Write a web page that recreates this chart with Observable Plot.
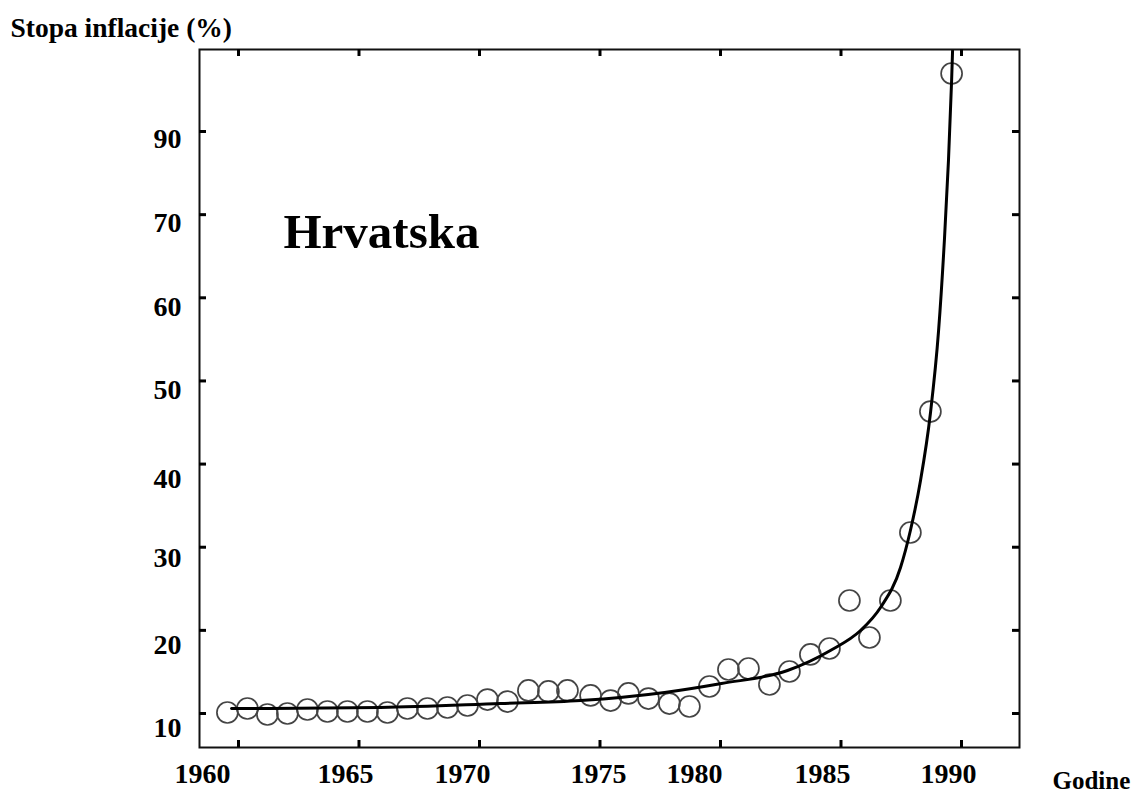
<!DOCTYPE html>
<html>
<head>
<meta charset="utf-8">
<script src="https://cdn.jsdelivr.net/npm/d3@7"></script>
<script src="https://cdn.jsdelivr.net/npm/@observablehq/plot@0.6"></script>
<style>
  html, body { margin: 0; padding: 0; background: #fff; }
  #chart { width: 1141px; height: 796px; }
</style>
</head>
<body>
<div id="chart"></div>
<script>
// Observed points (x positions in years as drawn, inflation rate in %)
const years = [1959.54, 1960.37, 1961.20, 1962.03, 1962.86, 1963.69, 1964.52, 1965.35, 1966.18, 1967.01,
  1967.84, 1968.67, 1969.50, 1970.33, 1971.16, 1972.03, 1972.86, 1973.65, 1974.61, 1975.44,
  1976.18, 1977.01, 1977.88, 1978.71, 1979.54, 1980.33, 1981.16, 1982.03, 1982.86, 1983.73,
  1984.52, 1985.35, 1986.18, 1987.05, 1987.88, 1988.71, 1989.59];
const rates = [10.12, 10.60, 9.88, 10.00, 10.48, 10.24, 10.24, 10.24, 10.12, 10.60,
  10.60, 10.72, 10.96, 11.68, 11.44, 12.77, 12.65, 12.77, 12.17, 11.56,
  12.41, 11.80, 11.20, 10.84, 13.25, 15.29, 15.41, 13.49, 15.05, 17.10,
  17.82, 23.59, 19.14, 23.59, 31.77, 46.32, 86.98];

// Fitted curve
const curveYears = [1959.71, 1965.89, 1970.87, 1974.19, 1977.68, 1980.04, 1982.78, 1984.56, 1985.81,
  1986.64, 1987.47, 1987.88, 1988.30, 1988.71, 1989.05, 1989.29, 1989.46, 1989.59, 1989.63];
const curveRates = [10.60, 10.72, 11.20, 11.56, 12.53, 13.61, 15.17, 17.58, 19.98,
  22.75, 27.56, 32.01, 38.02, 46.08, 56.07, 66.89, 76.52, 86.14, 89.74];

// Axes
const xTicks = [1960, 1965, 1970, 1975, 1980, 1985, 1990];
const xTickLabels = ["1960", "1965", "1970", "1975", "1980", "1985", "1990"];
const xLabelAt = [1958.51, 1964.44, 1969.29, 1974.94, 1978.92, 1984.23, 1989.46];
const yTicks = [10, 20, 30, 40, 50, 60, 70, 80];
const yTickLabels = ["10", "20", "30", "40", "50", "60", "70", "90"];
const yLabelAt = [8.20, 18.18, 28.76, 38.15, 48.85, 58.83, 68.94, 79.04];

const yTitle = "Stopa inflacije (%)";
const xTitle = "Godine";
const panelTitle = "Hrvatska";

const W = 1141, H = 796;
const mL = 199, mR = 122, mT = 49, mB = 49;
const plotW = W - mL - mR, plotH = H - mT - mB;
const tickLen = 7;
const font = "'Liberation Serif', 'Times New Roman', serif";

const points = years.map((x, i) => ({x, y: rates[i]}));
const curve = curveYears.map((x, i) => ({x, y: curveRates[i]}));

const chart = Plot.plot({
  width: W,
  height: H,
  marginLeft: mL,
  marginRight: mR,
  marginTop: mT,
  marginBottom: mB,
  style: {fontFamily: font, background: "#fff", overflow: "visible"},
  x: {domain: [1958.382, 1992.407], axis: null},
  y: {domain: [5.911, 89.865], axis: null},
  marks: [
    Plot.dot(points, {x: "x", y: "y", r: 10.5, stroke: "#444", strokeWidth: 1.7, fill: "none"}),
    Plot.line(curve, {x: "x", y: "y", curve: "monotone-x", stroke: "#000", strokeWidth: 3}),
    Plot.frame({stroke: "#111", strokeWidth: 2}),
    Plot.tickX(xTicks, {x: d => d, insetTop: plotH - tickLen, stroke: "#000", strokeWidth: 3}),
    Plot.tickX(xTicks, {x: d => d, insetBottom: plotH - tickLen, stroke: "#000", strokeWidth: 3}),
    Plot.tickY(yTicks, {y: d => d, insetRight: plotW - tickLen, stroke: "#000", strokeWidth: 3}),
    Plot.tickY(yTicks, {y: d => d, insetLeft: plotW - tickLen, stroke: "#000", strokeWidth: 3}),
    Plot.text(xTickLabels, {x: (d, i) => xLabelAt[i], text: d => d, frameAnchor: "bottom", dy: 27,
      lineAnchor: "middle", fontSize: 28, fontWeight: "bold", fill: "#000"}),
    Plot.text(yTickLabels, {y: (d, i) => yLabelAt[i], text: d => d, frameAnchor: "left", dx: -18,
      textAnchor: "end", lineAnchor: "middle", fontSize: 28, fontWeight: "bold", fill: "#000"}),
    Plot.text([yTitle], {text: d => d, frameAnchor: "top-left", dx: -189, dy: -13,
      textAnchor: "start", lineAnchor: "bottom", fontSize: 27.5, fontWeight: "bold", fill: "#000"}),
    Plot.text([xTitle], {text: d => d, frameAnchor: "bottom-right", dx: 33, dy: 41,
      textAnchor: "start", lineAnchor: "bottom", fontSize: 25, fontWeight: "bold", fill: "#000"}),
    Plot.text([panelTitle], {text: d => d, frameAnchor: "top-left", dx: 84, dy: 198,
      textAnchor: "start", lineAnchor: "bottom", fontSize: 49, fontWeight: "bold", fill: "#000"})
  ]
});
document.getElementById("chart").appendChild(chart);
</script>
</body>
</html>
